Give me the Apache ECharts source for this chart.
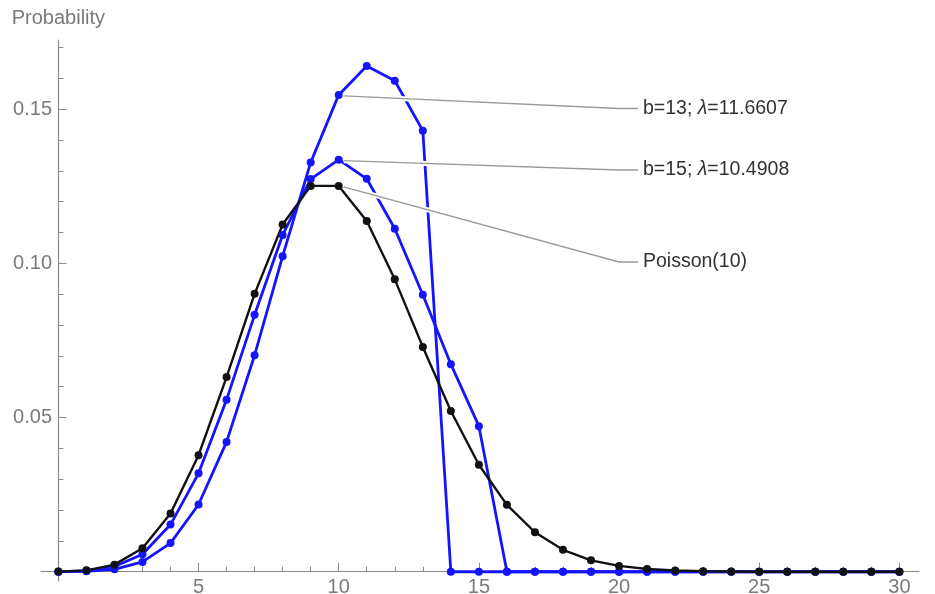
<!DOCTYPE html>
<html>
<head>
<meta charset="utf-8">
<script src="https://cdn.jsdelivr.net/npm/echarts@6/dist/echarts.min.js"></script>
<style>
  html, body { margin: 0; padding: 0; background: #ffffff; }
  #chart { width: 935px; height: 594px; }
</style>
</head>
<body>
<div id="chart"></div>
<script>
// Counts k = 0..30
const ks = [0, 1, 2, 3, 4, 5, 6, 7, 8, 9, 10, 11, 12, 13, 14, 15,
            16, 17, 18, 19, 20, 21, 22, 23, 24, 25, 26, 27, 28, 29, 30];

// Probabilities for each count
const poisson10 = [0.00005, 0.00045, 0.0023, 0.0076, 0.0189, 0.0378, 0.0631, 0.0901, 0.1126, 0.1251,
                   0.1251, 0.1137, 0.0948, 0.0729, 0.0521, 0.0347, 0.0217, 0.0128, 0.0071, 0.0037,
                   0.0019, 0.0009, 0.0004, 0.0002, 0.0001, 0, 0, 0, 0, 0, 0];
const trunc13 = [0.00001, 0.00014, 0.0008, 0.0032, 0.0093, 0.0218, 0.0421, 0.0702, 0.1023, 0.1327,
                 0.1546, 0.1640, 0.1592, 0.1430, 0, 0, 0, 0, 0, 0,
                 0, 0, 0, 0, 0, 0, 0, 0, 0, 0, 0];
const trunc15 = [0.00003, 0.0003, 0.0017, 0.0057, 0.0153, 0.0319, 0.0558, 0.0833, 0.1092, 0.1273,
                 0.1336, 0.1274, 0.1112, 0.0898, 0.0673, 0.0472, 0, 0, 0, 0,
                 0, 0, 0, 0, 0, 0, 0, 0, 0, 0, 0];

// Tick positions and labels
const xMajorTicks = [5, 10, 15, 20, 25, 30];
const xMinorTicks = [1, 2, 3, 4, 5, 6, 7, 8, 9, 10, 11, 12, 13, 14, 15,
                     16, 17, 18, 19, 20, 21, 22, 23, 24, 25, 26, 27, 28, 29, 30];
const yMajorTicks = [0.05, 0.10, 0.15];
const yMinorTicks = [0.01, 0.02, 0.03, 0.04, 0.05, 0.06, 0.07, 0.08, 0.09,
                     0.10, 0.11, 0.12, 0.13, 0.14, 0.15, 0.16, 0.17];

// Callout texts (λ is set in italics)
const callouts = [
  { pre: 'b=13; ', lam: 'λ', post: '=11.6607', series: trunc13 },
  { pre: 'b=15; ', lam: 'λ', post: '=10.4908', series: trunc15 },
  { pre: 'Poisson(10)', lam: '', post: '', series: poisson10 }
];
const calloutAt = 10;

const FONT = '"Liberation Sans", Arial, sans-serif';
const AXIS = '#8a8a8a';
const TICKTEXT = '#7a7a7a';

const toPairs = vals => ks.map((k, i) => [k, vals[i]]);

const chart = echarts.init(document.getElementById('chart'), null, { renderer: 'canvas' });

const xRange = { min: -0.62, max: 30.7 };
const yRange = { min: -0.003, max: 0.1724 };

function lineSeries(name, vals, color, width) {
  return {
    name: name,
    type: 'line',
    data: toPairs(vals),
    xAxisIndex: 0,
    yAxisIndex: 0,
    symbol: 'circle',
    symbolSize: 8,
    showSymbol: true,
    showAllSymbol: true,
    lineStyle: { color: color, width: width },
    itemStyle: { color: color, borderWidth: 0 },
    emphasis: { disabled: true },
    z: 3
  };
}

chart.setOption({
  animation: false,
  backgroundColor: '#ffffff',
  grid: { left: 41, right: 16, top: 40, bottom: 13, containLabel: false, outerBoundsMode: 'none' },
  xAxis: [
    {
      type: 'value', position: 'bottom', min: xRange.min, max: xRange.max,
      axisLine: { show: true, onZero: true, lineStyle: { color: AXIS, width: 1.2 } },
      axisTick: { show: true, inside: true, length: 5, customValues: xMinorTicks,
                  lineStyle: { color: AXIS, width: 1 } },
      // labels sit just under the zero line, which lies above the grid's bottom edge
      axisLabel: { show: true, customValues: xMajorTicks, margin: -4,
                   color: TICKTEXT, fontSize: 20, fontFamily: FONT },
      splitLine: { show: false }
    },
    {
      type: 'value', position: 'bottom', min: xRange.min, max: xRange.max,
      axisLine: { show: false, onZero: true },
      axisTick: { show: true, inside: true, length: 9, customValues: xMajorTicks,
                  lineStyle: { color: AXIS, width: 1 } },
      axisLabel: { show: false },
      splitLine: { show: false }
    }
  ],
  yAxis: [
    {
      type: 'value', position: 'left', min: yRange.min, max: yRange.max,
      name: 'Probability', nameLocation: 'end', nameGap: 12,
      nameTextStyle: { color: TICKTEXT, fontSize: 20, fontFamily: FONT, align: 'center' },
      axisLine: { show: true, onZero: true, lineStyle: { color: AXIS, width: 1.2 } },
      axisTick: { show: true, inside: true, length: 5, customValues: yMinorTicks,
                  lineStyle: { color: AXIS, width: 1 } },
      // labels sit just left of the x = 0 line, which lies right of the grid's left edge
      axisLabel: { show: true, customValues: yMajorTicks, margin: -11,
                   formatter: v => v.toFixed(2),
                   color: TICKTEXT, fontSize: 20, fontFamily: FONT },
      splitLine: { show: false }
    },
    {
      type: 'value', position: 'left', min: yRange.min, max: yRange.max,
      axisLine: { show: false, onZero: true },
      axisTick: { show: true, inside: true, length: 8, customValues: yMajorTicks,
                  lineStyle: { color: AXIS, width: 1 } },
      axisLabel: { show: false },
      splitLine: { show: false }
    }
  ],
  series: [
    lineSeries('b=13', trunc13, '#1414ff', 2.8),
    lineSeries('b=15', trunc15, '#1414ff', 2.8),
    lineSeries('Poisson(10)', poisson10, '#111111', 2.4)
  ]
});

// Callout leader lines and texts, anchored at the k = 10 points
const textLeft = 643;
const textYs = [108.5, 170, 262];
const graphics = [];
callouts.forEach((c, i) => {
  const p = chart.convertToPixel({ xAxisIndex: 0, yAxisIndex: 0 }, [calloutAt, c.series[calloutAt]]);
  const ty = textYs[i];
  const pts = [[p[0] + 5, p[1] + 1], [textLeft - 24, ty], [textLeft - 5, ty]];
  graphics.push({
    type: 'polyline', z: 100, silent: true,
    shape: { points: pts },
    style: { stroke: '#ffffff', lineWidth: 5, fill: null }
  });
  graphics.push({
    type: 'polyline', z: 101, silent: true,
    shape: { points: pts },
    style: { stroke: '#9a9a9a', lineWidth: 1.4, fill: null }
  });
  const text = c.lam
    ? '{r|' + c.pre + '}{i|' + c.lam + '}{r|' + c.post + '}'
    : '{r|' + c.pre + '}';
  graphics.push({
    type: 'text', z: 102, silent: true,
    x: textLeft, y: ty,
    style: {
      text: text,
      verticalAlign: 'middle',
      align: 'left',
      rich: {
        r: { fontSize: 19.5, fontFamily: FONT, fill: '#333333' },
        i: { fontSize: 19.5, fontFamily: FONT, fontStyle: 'italic', fill: '#333333' }
      }
    }
  });
});
chart.setOption({ graphic: graphics });
</script>
</body>
</html>
